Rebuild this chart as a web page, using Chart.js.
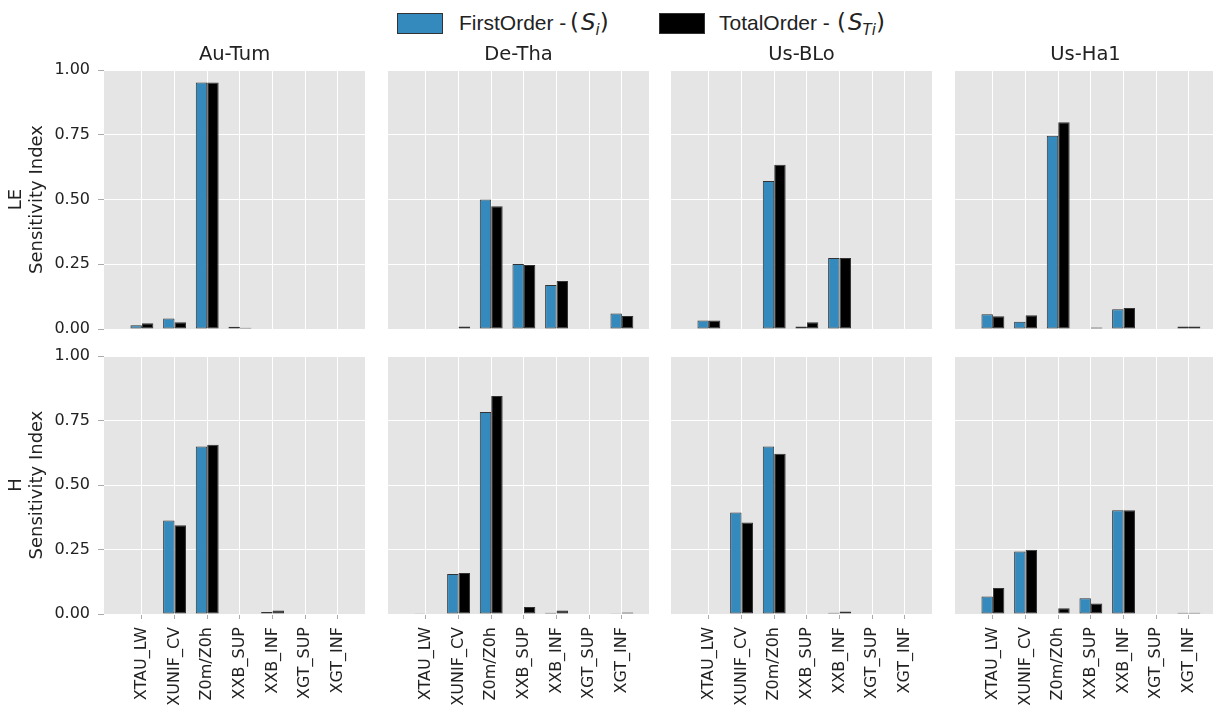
<!DOCTYPE html>
<html>
<head>
<meta charset="utf-8">
<script src="https://cdn.jsdelivr.net/npm/chart.js@4.4.1/dist/chart.umd.min.js"></script>
<style>
  html, body { margin: 0; padding: 0; }
  body {
    width: 1213px; height: 713px; overflow: hidden; position: relative;
    background: #ffffff; font-family: "DejaVu Sans", sans-serif; color: #222;
  }
  .panel { position: absolute; }
  #legend {
    position: absolute; top: 0; left: 0; width: 1213px; height: 46px;
    color: #222;
  }
  .swatch { position: absolute; top: 13px; width: 46px; height: 21px; box-sizing: border-box; border: 1px solid #333; }
  .lbl {
    position: absolute; top: 10px; white-space: nowrap; line-height: 26px;
    font-family: "Liberation Sans", Arial, sans-serif; font-size: 21px;
  }
  .math {
    position: absolute; top: 9px; white-space: nowrap; line-height: 26px;
    font-family: "DejaVu Sans", sans-serif; font-size: 23px;
  }
  .math i { font-style: italic; margin-left: 2px; }
  .math sub { font-size: 15px; vertical-align: -5px; line-height: 0; font-style: italic; }
</style>
</head>
<body>
<div id="legend">
  <div class="swatch" style="left:397px;background:#348ABD"></div>
  <span class="lbl" style="left:459px">FirstOrder -</span>
  <span class="math" style="left:570px">(<i>S</i><sub>i</sub>)</span>
  <div class="swatch" style="left:659px;background:#000000"></div>
  <span class="lbl" style="left:719px">TotalOrder -</span>
  <span class="math" style="left:837px">(<i>S</i><sub>Ti</sub>)</span>
</div>
<script>
// Sobol sensitivity indices of the SURFEX/ISBA parameters per site
const parameters = ['XTAU_LW', 'XUNIF_CV', 'Z0m/Z0h', 'XXB_SUP', 'XXB_INF', 'XGT_SUP', 'XGT_INF'];
const sites = ['Au-Tum', 'De-Tha', 'Us-BLo', 'Us-Ha1'];
const fluxes = ['LE', 'H'];
const yTickValues = [0, 0.25, 0.5, 0.75, 1.0];

// Latent heat (LE): first-order (S1) and total-order (ST) indices
const auTumLE_S1 = [0.014, 0.041, 0.952, 0.009, 0.002, 0, 0];
const auTumLE_ST = [0.022, 0.026, 0.952, 0.005, 0.002, 0, 0.002];
const deThaLE_S1 = [0.002, 0, 0.500, 0.251, 0.170, 0, 0.060];
const deThaLE_ST = [0.002, 0.010, 0.474, 0.247, 0.185, 0, 0.050];
const usBLoLE_S1 = [0.033, 0, 0.571, 0.010, 0.274, 0, 0];
const usBLoLE_ST = [0.033, 0.002, 0.634, 0.026, 0.274, 0, 0.002];
const usHa1LE_S1 = [0.057, 0.028, 0.746, 0.002, 0.076, 0, 0.010];
const usHa1LE_ST = [0.049, 0.053, 0.798, 0.006, 0.081, 0, 0.010];

// Sensible heat (H): first-order (S1) and total-order (ST) indices
const auTumH_S1 = [0, 0.362, 0.649, 0, 0.008, 0, 0];
const auTumH_ST = [0, 0.344, 0.656, 0, 0.014, 0, 0];
const deThaH_S1 = [0.003, 0.155, 0.783, 0, 0.005, 0, 0.003];
const deThaH_ST = [0, 0.159, 0.845, 0.027, 0.014, 0, 0.006];
const usBLoH_S1 = [0, 0.393, 0.649, 0, 0.005, 0, 0];
const usBLoH_ST = [0, 0.355, 0.621, 0, 0.010, 0, 0];
const usHa1H_S1 = [0.068, 0.242, 0, 0.061, 0.402, 0, 0.005];
const usHa1H_ST = [0.101, 0.249, 0.022, 0.041, 0.402, 0, 0.005];

const firstOrder = {
  LE: [auTumLE_S1, deThaLE_S1, usBLoLE_S1, usHa1LE_S1],
  H:  [auTumH_S1, deThaH_S1, usBLoH_S1, usHa1H_S1]
};
const totalOrder = {
  LE: [auTumLE_ST, deThaLE_ST, usBLoLE_ST, usHa1LE_ST],
  H:  [auTumH_ST, deThaH_ST, usBLoH_ST, usHa1H_ST]
};

const FONT = '"DejaVu Sans", sans-serif';
const BLUE = '#348ABD';
const PANEL_BG = '#E5E5E5';

// grid geometry (pixels)
const plotLefts = [104, 388, 671, 955];
const plotWidth = 261;
const rowGeom = [
  { canvasTop: 40, padTop: 0, plotH: 259, xAxisH: 0, padBottom: 12 },
  { canvasTop: 340, padTop: 16, plotH: 258, xAxisH: 99, padBottom: 0 }
];

// paints the grey panel background behind the grid
const panelBackground = {
  id: 'panelBackground',
  beforeDraw(chart) {
    const { ctx, chartArea: a } = chart;
    ctx.save();
    ctx.fillStyle = PANEL_BG;
    ctx.fillRect(a.left, a.top, a.right - a.left, a.bottom - a.top);
    ctx.restore();
  }
};

function toPoints(arr) {
  return arr.map((v, i) => ({ x: i, y: v }));
}

fluxes.forEach((flux, r) => {
  sites.forEach((site, c) => {
    const g = rowGeom[r];
    const yAxisW = c === 0 ? 104 : 0;
    const left = plotLefts[c] - yAxisW;
    const width = yAxisW + plotWidth;
    const height = g.padTop + g.plotH + g.xAxisH + g.padBottom + (r === 0 ? 30 : 0);

    const wrap = document.createElement('div');
    wrap.className = 'panel';
    wrap.style.left = left + 'px';
    wrap.style.top = g.canvasTop + 'px';
    wrap.style.width = width + 'px';
    wrap.style.height = height + 'px';
    const canvas = document.createElement('canvas');
    wrap.appendChild(canvas);
    document.body.appendChild(wrap);

    const showXLabels = r === 1;
    const showYLabels = c === 0;

    new Chart(canvas, {
      type: 'bar',
      data: {
        datasets: [
          {
            label: 'FirstOrder',
            data: toPoints(firstOrder[flux][c]),
            backgroundColor: BLUE,
            borderColor: '#333333',
            borderWidth: 1,
            borderSkipped: false
          },
          {
            label: 'TotalOrder',
            data: toPoints(totalOrder[flux][c]),
            backgroundColor: '#000000',
            borderColor: '#333333',
            borderWidth: 1,
            borderSkipped: false
          }
        ]
      },
      plugins: [panelBackground],
      options: {
        responsive: true,
        maintainAspectRatio: false,
        animation: false,
        events: [],
        layout: { padding: { top: g.padTop, bottom: g.padBottom, left: 0, right: 0 } },
        datasets: { bar: { categoryPercentage: 0.7, barPercentage: 1.0 } },
        plugins: {
          legend: { display: false },
          tooltip: { enabled: false },
          title: {
            display: r === 0,
            fullSize: false,
            text: site,
            color: '#222',
            font: { family: FONT, size: 19.5, weight: 'normal', lineHeight: 1.2 },
            padding: { top: 3.6, bottom: 3 }
          }
        },
        scales: {
          x: {
            type: 'linear',
            min: -1.16,
            max: 6.83,
            offset: false,
            border: { display: false },
            grid: {
              color: '#ffffff',
              lineWidth: 1,
              offset: false,
              drawTicks: showXLabels,
              tickLength: 5,
              tickColor: '#aaaaaa'
            },
            afterBuildTicks(axis) {
              axis.ticks = parameters.map((_, i) => ({ value: i }));
            },
            ticks: {
              display: showXLabels,
              autoSkip: false,
              minRotation: 90,
              maxRotation: 90,
              padding: 8,
              color: '#222',
              font: { family: FONT, size: 16 },
              callback: (v) => parameters[v] ?? ''
            },
            afterFit(s) {
              s.height = g.xAxisH;
              s.paddingLeft = 0;
              s.paddingRight = 0;
            }
          },
          y: {
            min: 0,
            max: 1,
            border: { display: false },
            grid: {
              color: '#ffffff',
              lineWidth: 1,
              drawTicks: showYLabels,
              tickLength: 6,
              tickColor: '#aaaaaa'
            },
            afterBuildTicks(axis) {
              axis.ticks = yTickValues.map((v) => ({ value: v }));
            },
            ticks: {
              display: showYLabels,
              padding: 8,
              color: '#222',
              font: { family: FONT, size: 16 },
              callback: (v) => v.toFixed(2)
            },
            title: {
              display: showYLabels,
              text: [flux, 'Sensitivity Index'],
              color: '#222',
              font: { family: FONT, size: 18, lineHeight: 1.17 },
              padding: { top: 6, bottom: 0 }
            },
            afterFit(s) {
              s.width = yAxisW;
              s.paddingTop = 0;
              s.paddingBottom = 0;
            }
          }
        }
      }
    });
  });
});
</script>
</body>
</html>
